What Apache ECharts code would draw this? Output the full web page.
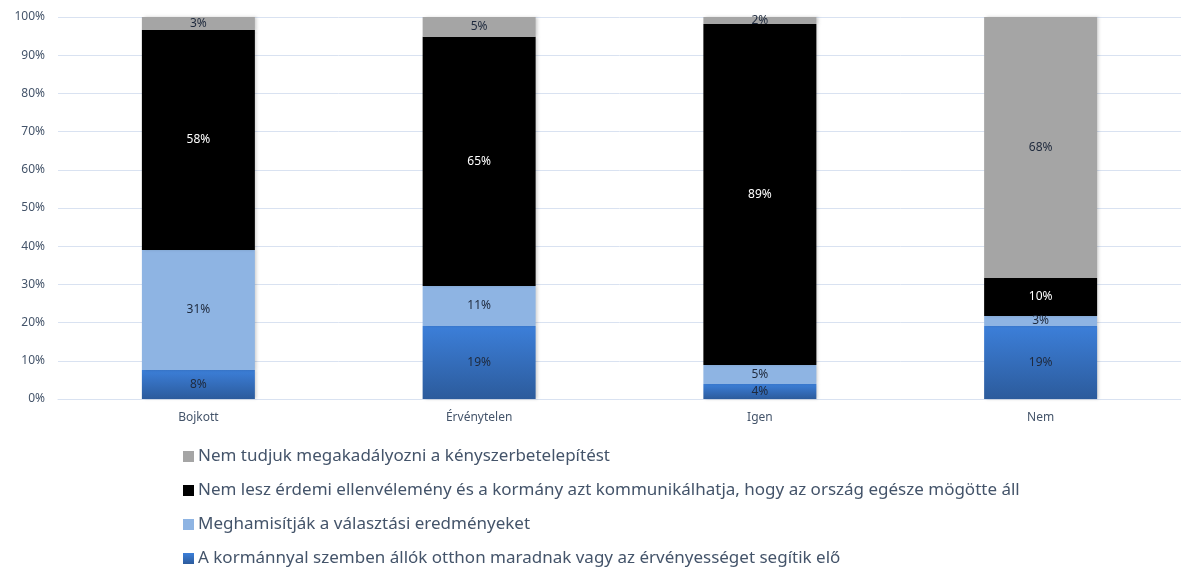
<!DOCTYPE html>
<html><head><meta charset="utf-8">
<script src="https://cdn.jsdelivr.net/npm/echarts@6/dist/echarts.min.js"></script>
<style>html,body{margin:0;padding:0;background:#fff}#c{width:1181px;height:570px}</style>
</head><body><div id="c"></div>
<script>
const categories = ['Bojkott', 'Érvénytelen', 'Igen', 'Nem'];
const seriesNames = [
  'A kormánnyal szemben állók otthon maradnak vagy az érvényességet segítik elő',
  'Meghamisítják a választási eredményeket',
  'Nem lesz érdemi ellenvélemény és a kormány azt kommunikálhatja, hogy az ország egésze mögötte áll',
  'Nem tudjuk megakadályozni a kényszerbetelepítést'
];
const otthonMaradnak = [7.6, 19.1, 3.9, 19.1];
const meghamisitjak = [31.4, 10.5, 5.0, 2.6];
const nemLeszEllenvelemeny = [57.6, 65.2, 89.3, 10.0];
const nemTudjukMegakadalyozni = [3.4, 5.2, 1.8, 68.3];
const yTicks = [0, 10, 20, 30, 40, 50, 60, 70, 80, 90, 100];

const FONT = 'Noto Sans';
const TXT = '#44546a';
const colors = [
  new echarts.graphic.LinearGradient(0, 0, 0, 1, [{offset: 0, color: '#3c7fd9'}, {offset: 1, color: '#2c5b9c'}]),
  '#8eb4e3', '#000000', '#a5a5a5'
];
const labelColors = ['#1f2a3d', '#1f2a3d', '#ffffff', '#1f2a3d'];
const allData = [otthonMaradnak, meghamisitjak, nemLeszEllenvelemeny, nemTudjukMegakadalyozni];

const chart = echarts.init(document.getElementById('c'));
chart.setOption({
  animation: false,
  textStyle: {fontFamily: FONT},
  grid: {left: 58, right: -4, top: 17, bottom: 171, containLabel: false},
  legend: {
    orient: 'vertical', left: 183, top: 448, itemGap: 17, height: 122, padding: 0,
    itemWidth: 11, itemHeight: 11, icon: 'rect',
    data: [seriesNames[3], seriesNames[2], seriesNames[1], seriesNames[0]],
    textStyle: {fontFamily: FONT, fontSize: 17, lineHeight: 17, color: TXT, padding: [0, 0, 0, -1]}
  },
  xAxis: {
    type: 'category', data: categories,
    axisLine: {lineStyle: {color: '#d9e2f1'}},
    axisTick: {show: false},
    axisLabel: {color: TXT, fontSize: 12, margin: 13, fontFamily: FONT}
  },
  yAxis: {
    type: 'value', min: 0, max: 100, interval: 10,
    axisLine: {show: false}, axisTick: {show: false},
    splitLine: {lineStyle: {color: '#d9e2f1', width: 1}},
    axisLabel: {color: TXT, fontSize: 12, margin: 13, fontFamily: FONT,
      formatter: v => yTicks.includes(v) ? v + '%' : ''}
  },
  series: allData.map((d, i) => ({
    name: seriesNames[i], type: 'bar', stack: 'total', barWidth: 113,
    data: d,
    itemStyle: {color: colors[i], shadowColor: 'rgba(0,0,0,0.18)', shadowBlur: 3, shadowOffsetX: 2},
    label: {show: true, position: 'inside', color: labelColors[i], fontSize: 12, fontFamily: FONT,
      formatter: p => Math.round(p.value) + '%'}
  }))
});
</script></body></html>
